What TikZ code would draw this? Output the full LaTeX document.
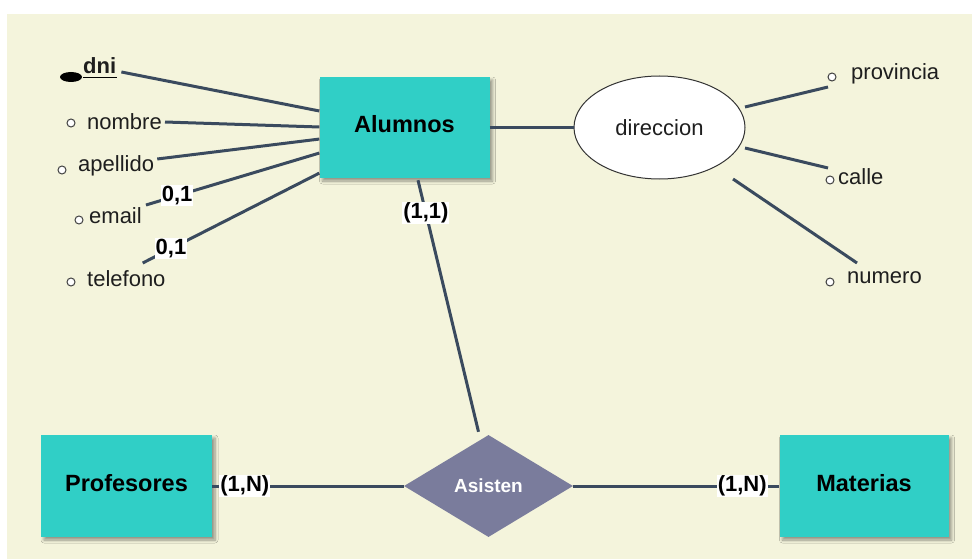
\documentclass[tikz,border=0pt]{standalone}
\usepackage{fontspec}
\setmainfont{Liberation Sans}
\usetikzlibrary{shapes.geometric,calc,shadows.blur}

\definecolor{paper}{HTML}{F4F4DC}
\definecolor{entityfill}{HTML}{30CFC6}
\definecolor{relfill}{HTML}{7A7C9C}
\definecolor{linkcol}{HTML}{3A4A5E}
\definecolor{attrtext}{HTML}{1E1E1E}

\tikzset{
  entity/.style={rectangle, fill=entityfill, minimum width=170pt, minimum height=101pt,
    inner sep=0pt, font=\fontsize{23.5}{27}\selectfont\bfseries,
    blur shadow={shadow xshift=3pt, shadow yshift=-3pt, shadow blur steps=6, shadow blur radius=3pt}},
  relation/.style={diamond, fill=relfill, minimum width=169pt, minimum height=102pt,
    inner sep=0pt, text=white, font=\fontsize{19}{23}\selectfont\bfseries},
  compound/.style={ellipse, draw=black!80, line width=1pt, fill=white,
    minimum width=171pt, minimum height=103pt, inner sep=0pt,
    font=\fontsize{22}{26}\selectfont, text=attrtext},
  attr/.style={anchor=west, inner sep=0pt, font=\fontsize{22}{26}\selectfont, text=attrtext},
  attrdot/.style={circle, draw=black!75, line width=1pt, fill=white,
    minimum size=8pt, inner sep=0pt},
  link/.style={draw=linkcol, line width=3pt},
  card/.style={fill=white, inner sep=1pt, font=\fontsize{22}{26}\selectfont\bfseries, text=black}
}

\begin{document}
\begin{tikzpicture}[x=1pt, y=-1pt]
  \useasboundingbox (0,0) rectangle (972,559);
  \fill[white] (0,0) rectangle (972,559);
  \fill[paper] (7,14) rectangle (972,559);

  % entities, relationship and composite attribute
  \node[entity] (al) at (404.5,127.5) {Alumnos\strut};
  \node[entity, minimum width=171pt, minimum height=102pt] (prof) at (126.5,486) {Profesores\strut};
  \node[entity, minimum width=169pt, minimum height=102pt] (mat) at (864,486) {Materias\strut};
  \node[relation] (asis) at (488.5,486) {Asisten};
  \node[compound] (dir) at (659.5,127.5) {direccion};

  % attributes of Alumnos
  \node[attr, font=\fontsize{22}{26}\selectfont\bfseries] (dni) at (83,66) {dni};
  \draw[black, line width=1.2pt] (dni.south west) ++(0,3) coordinate (dniu) -- ++(34,0);
  \node[ellipse, fill=black, minimum width=22pt, minimum height=10pt, inner sep=0pt] (dnikey) at (71,77) {};
  \node[attr] (nombre) at (87,122) {nombre};
  \node[attrdot] (nombrec) at (71,123) {};
  \node[attr] (apellido) at (78,166) {apellido};
  \node[attrdot] (apellidoc) at (62,170) {};
  \node[attr] (email) at (89,216) {email};
  \node[attrdot] (emailc) at (79,220) {};
  \node[attr] (telefono) at (87,279) {telefono};
  \node[attrdot] (telefonoc) at (71,282) {};

  % attributes of direccion
  \node[attr] (prov) at (851,74) {provincia};
  \node[attrdot] (provc) at (832,77) {};
  \node[attr] (calle) at (838,177) {calle};
  \node[attrdot] (callec) at (830,180) {};
  \node[attr] (numero) at (847,278) {numero};
  \node[attrdot] (numeroc) at (830,282) {};

  % attribute links on the left
  \draw[link] ([shift={(5,6)}]dni.east) -- ($(al.north west)!0.337!(al.south west)$);
  \draw[link] ([shift={(3,0)}]nombre.east) -- ($(al.north west)!0.495!(al.south west)$);
  \draw[link] ([shift={(3,-7)}]apellido.east) -- ($(al.north west)!0.614!(al.south west)$);
  \draw[link] ([shift={(4,-11)}]email.east)
     -- node[card, pos=0.18] {0,1} ($(al.north west)!0.752!(al.south west)$);
  \draw[link] ([shift={(-23,-16)}]telefono.east)
     -- node[card, pos=0.16] {0,1} ($(al.north west)!0.95!(al.south west)$);

  % direccion and its parts
  \draw[link] (al.east) -- (dir.west);
  \draw[link] ([shift={(85.5,-20.5)}]dir.center) -- ([shift={(-4,10)}]provc.center);
  \draw[link] ([shift={(85.5,20.5)}]dir.center) -- ([shift={(-2,-12)}]callec.center);
  \draw[link] ([shift={(73.5,51.5)}]dir.center) -- ([shift={(10,-15)}]numero.west);

  % relationship links
  \draw[link] ([shift={(13.5,2)}]al.south)
     -- node[card, pos=0.13] {(1,1)} ([shift={(-10,-3)}]asis.north);
  \draw[link] (prof.east) -- node[card, pos=0.17] {(1,N)} (asis.west);
  \draw[link] (asis.east) -- node[card, pos=0.82] {(1,N)} (mat.west);
\end{tikzpicture}
\end{document}
